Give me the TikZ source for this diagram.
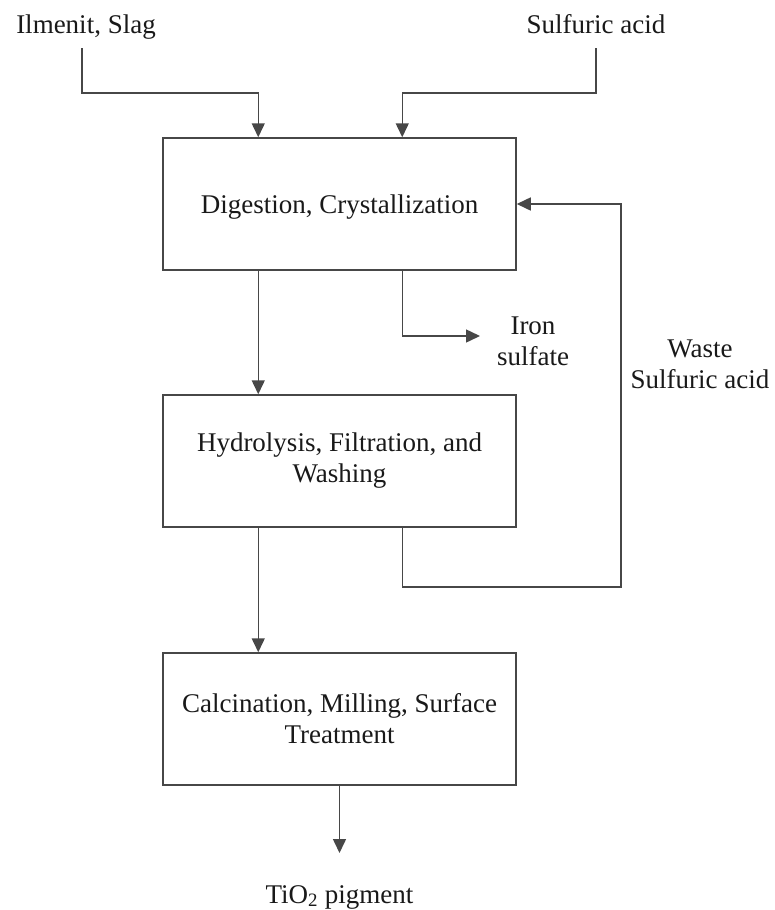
\documentclass[tikz,border=0pt]{standalone}
\usepackage{fontspec}
\setmainfont{Liberation Serif}
\usetikzlibrary{arrows.meta}
\begin{document}
\begin{tikzpicture}[x=1pt,y=-1pt,
  proc/.style={draw=black!72, line width=1.5pt, minimum width=353pt, minimum height=132pt,
    inner sep=0pt, align=center, text=black!90, font=\fontsize{27}{31}\selectfont},
  lbl/.style={inner sep=0pt, align=center, text=black!90, font=\fontsize{27}{31}\selectfont},
  conn/.style={draw=black!72, line width=1.5pt},
  arr/.style={conn, -{Triangle[length=14pt,width=13pt]}}]
\useasboundingbox (0,0) rectangle (774,910);
\fill[white] (0,0) rectangle (774,910);
% process boxes
\node[proc, text height=18pt, text depth=0pt] (b1) at (339.5,204) {Digestion, Crystallization};
\node[proc] (b2) at (339.5,461) {Hydrolysis, Filtration, and\\Washing};
\node[proc] (b3) at (339.5,719) {Calcination, Milling, Surface\\Treatment};
% labels
\node[lbl, anchor=base] (ilm) at (86,33) {Ilmenit, Slag};
\node[lbl, anchor=base] (sa) at (596,33) {Sulfuric acid};
\node[lbl] (fe) at (533,341) {Iron\\sulfate};
\node[lbl] (ws) at (700,364) {Waste\\Sulfuric acid};
\node[lbl, anchor=base] (ti) at (339.5,903) {TiO\textsubscript{2} pigment};
% connector end points
\coordinate (s1) at (82,48);
\coordinate (s2) at (596,48);
\coordinate (feend) at (480,336);
\coordinate (loopc) at (621,587);
\coordinate (tiend) at (339.5,853);
% connectors
\draw[arr] (s1) -- ++(0,45) -| ([xshift=96pt]b1.north west);
\draw[arr] (s2) -- ++(0,45) -| ([xshift=240pt]b1.north west);
\draw[arr] ([xshift=96pt]b1.south west) -- ([xshift=96pt]b2.north west);
\draw[arr] ([xshift=240pt]b1.south west) |- (feend);
\draw[arr] ([xshift=240pt]b2.south west) |- (loopc) |- (b1.east);
\draw[arr] ([xshift=96pt]b2.south west) -- ([xshift=96pt]b3.north west);
\draw[arr] (b3.south) -- (tiend);
\end{tikzpicture}
\end{document}
